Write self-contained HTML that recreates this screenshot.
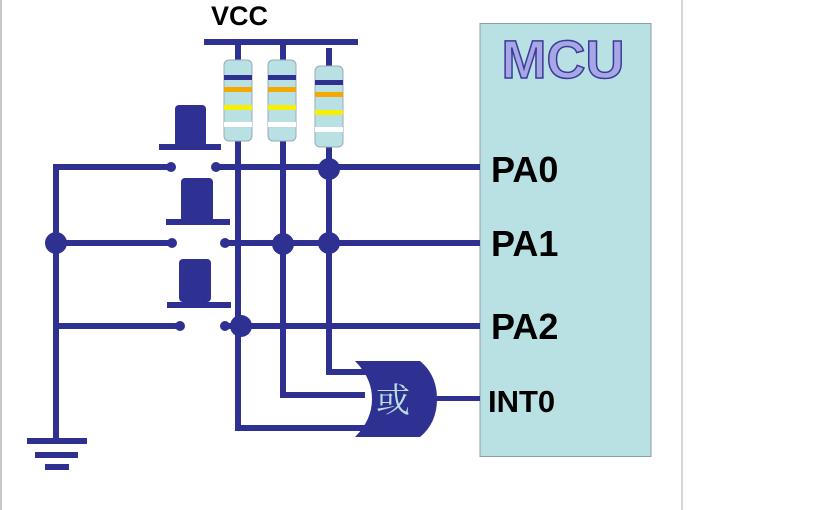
<!DOCTYPE html>
<html><head><meta charset="utf-8"><style>
html,body{margin:0;padding:0;background:#fff;}
svg{display:block;}
</style></head><body>
<svg width="819" height="510" viewBox="0 0 819 510" xmlns="http://www.w3.org/2000/svg">
<rect x="0" y="0" width="2" height="510" fill="#c8c8c8"/>
<rect x="681" y="0" width="2" height="510" fill="#d8d8d8"/>
<!-- MCU -->
<rect x="480" y="23.5" width="171" height="433" fill="#b9e0e3" stroke="#8aa0a8" stroke-width="1"/>
<text x="563" y="78" text-anchor="middle" font-family="Liberation Sans, sans-serif" font-weight="bold" font-size="54" fill="#a7a7e6" stroke="#3a3a9a" stroke-width="1.5">MCU</text>
<g font-family="Liberation Sans, sans-serif" font-weight="bold" fill="#000">
<text x="491" y="182" font-size="36">PA0</text>
<text x="491" y="256" font-size="36">PA1</text>
<text x="491" y="339" font-size="36">PA2</text>
<text x="488" y="412" font-size="31">INT0</text>
<text x="211" y="25" font-size="27">VCC</text>
</g>
<g fill="#2e3192" stroke="none">
<!-- VCC bar -->
<rect x="204" y="39" width="154" height="6"/>
<rect x="235" y="45" width="6" height="385"/>
<rect x="280" y="45" width="6" height="353"/>
<rect x="326" y="48" width="6" height="327"/>
<!-- horizontal lines -->
<rect x="54" y="164" width="118" height="6"/>
<rect x="215" y="164" width="265" height="6"/>
<rect x="54" y="240" width="118" height="6"/>
<rect x="224" y="240" width="256" height="6"/>
<rect x="54" y="323" width="126" height="6"/>
<rect x="224" y="323" width="256" height="6"/>
<rect x="53" y="164" width="6" height="276"/>
<!-- contacts -->
<circle cx="171" cy="167" r="5"/><circle cx="216" cy="167" r="5"/>
<circle cx="172" cy="243" r="5"/><circle cx="225" cy="243" r="5"/>
<circle cx="180" cy="326" r="5"/><circle cx="225" cy="326" r="5"/>
<!-- junctions -->
<circle cx="329" cy="169" r="11"/>
<circle cx="56" cy="243" r="11"/>
<circle cx="283" cy="244" r="11"/>
<circle cx="329" cy="243" r="11"/>
<circle cx="241" cy="326" r="11"/>
<!-- gate inputs -->
<rect x="326" y="369" width="40" height="6"/>
<rect x="280" y="392" width="85" height="6"/>
<rect x="235" y="425" width="130" height="6"/>
<rect x="432" y="396" width="48" height="5"/>
<!-- OR gate -->
<path d="M355 361 L420 361 Q437 375 437 399 Q437 423 420 437 L355 437 Q372 420 372 399 Q372 378 355 361 Z"/>
<!-- buttons -->
<rect x="175" y="105" width="31" height="42" rx="4"/>
<rect x="159" y="144" width="62" height="6"/>
<rect x="181" y="178" width="32" height="44" rx="4"/>
<rect x="166" y="219" width="64" height="6"/>
<rect x="179" y="259" width="32" height="43" rx="4"/>
<rect x="167" y="302" width="64" height="6"/>
<!-- ground -->
<rect x="27" y="438" width="60" height="6"/>
<rect x="35" y="452" width="43" height="6"/>
<rect x="45" y="464" width="24" height="6"/>
</g>
<text x="393" y="412" text-anchor="middle" font-family="Liberation Serif, 'Noto Serif CJK SC', serif" font-size="34" fill="#b9e0e3">或</text>
<!-- resistors -->
<g>
<rect x="224" y="60" width="28" height="81" rx="5" fill="#b9e0e3" stroke="#9ab" stroke-width="1"/>
<rect x="224" y="75" width="28" height="5" fill="#2e3192"/>
<rect x="224" y="87" width="28" height="5" fill="#f5a800"/>
<rect x="224" y="105" width="28" height="5" fill="#f5f000"/>
<rect x="224" y="122" width="28" height="5" fill="#fff"/>
<rect x="268" y="60" width="28" height="81" rx="5" fill="#b9e0e3" stroke="#9ab" stroke-width="1"/>
<rect x="268" y="75" width="28" height="5" fill="#2e3192"/>
<rect x="268" y="87" width="28" height="5" fill="#f5a800"/>
<rect x="268" y="105" width="28" height="5" fill="#f5f000"/>
<rect x="268" y="122" width="28" height="5" fill="#fff"/>
<rect x="315" y="66" width="28" height="81" rx="5" fill="#b9e0e3" stroke="#9ab" stroke-width="1"/>
<rect x="315" y="80" width="28" height="5" fill="#2e3192"/>
<rect x="315" y="92" width="28" height="5" fill="#f5a800"/>
<rect x="315" y="110" width="28" height="5" fill="#f5f000"/>
<rect x="315" y="127" width="28" height="5" fill="#fff"/>
</g>
</svg>
</body></html>
